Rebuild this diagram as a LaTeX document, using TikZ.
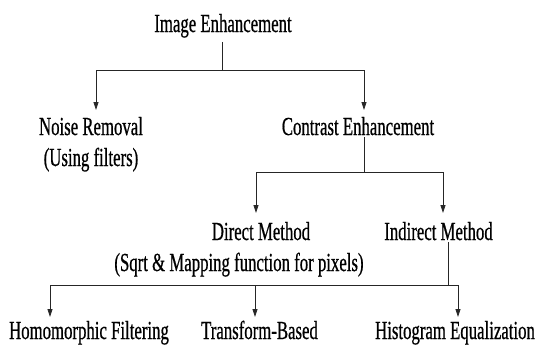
\documentclass[tikz,border=0pt]{standalone}
\usepackage{fontspec}
\setmainfont{Liberation Serif}[FakeStretch=0.645,FakeBold=0.6]
\usetikzlibrary{arrows.meta}
\begin{document}
\begin{tikzpicture}[x=1pt,y=-1pt,
  lbl/.style={anchor=base,inner sep=0pt,font=\fontsize{26}{30}\selectfont},
  ln/.style={line width=0.8pt,black!85},
  arr/.style={ln,-{Triangle[length=8pt,width=5pt]}}]
\useasboundingbox (0,0) rectangle (551,349);
% nodes
\node[lbl] (ie) at (223,32) {Image Enhancement};
\node[lbl] (nr) at (91,135) {Noise Removal};
\node[lbl] (nr2) at (91,166) {(Using filters)};
\node[lbl] (ce) at (358,135) {Contrast Enhancement};
\node[lbl] (dm) at (261,240) {Direct Method};
\node[lbl] (sq) at (239,271) {(Sqrt \& Mapping function for pixels)};
\node[lbl] (im) at (438.5,240) {Indirect Method};
\node[lbl] (hf) at (89,339) {Homomorphic Filtering};
\node[lbl] (tb) at (259.5,339) {Transform-Based};
\node[lbl] (he) at (455,339) {Histogram Equalization};
% junctions
\coordinate (j1) at (222,70);
\coordinate (j1l) at (96,70);
\coordinate (j1r) at (364,70);
\coordinate (t1l) at (96,110);
\coordinate (t1r) at (364,110);
\coordinate (j2) at (364,172);
\coordinate (j2l) at (256,172);
\coordinate (j2r) at (443,172);
\coordinate (t2l) at (256,213);
\coordinate (t2r) at (443,213);
\coordinate (j3) at (448,285);
\coordinate (j3l) at (50,285);
\coordinate (j3m) at (255,285);
\coordinate (j3r) at (458,285);
\coordinate (t3l) at (50,317);
\coordinate (t3m) at (255,317);
\coordinate (t3r) at (458,317);
% connectors
\draw[ln] ([yshift=-4pt]ie.south -| j1) -- (j1);
\draw[ln] (j1l) -- (j1r);
\draw[arr] (j1l) -- (t1l);
\draw[arr] (j1r) -- (t1r);
\draw[ln] ([yshift=-2pt]ce.south -| j2) -- (j2);
\draw[ln] (j2l) -- (j2r);
\draw[arr] (j2l) -- (t2l);
\draw[arr] (j2r) -- (t2r);
\draw[ln] ([yshift=-2pt]im.south -| j3) -- (j3);
\draw[ln] (j3l) -- (j3r);
\draw[arr] (j3l) -- (t3l);
\draw[arr] (j3m) -- (t3m);
\draw[arr] (j3r) -- (t3r);
\end{tikzpicture}
\end{document}
